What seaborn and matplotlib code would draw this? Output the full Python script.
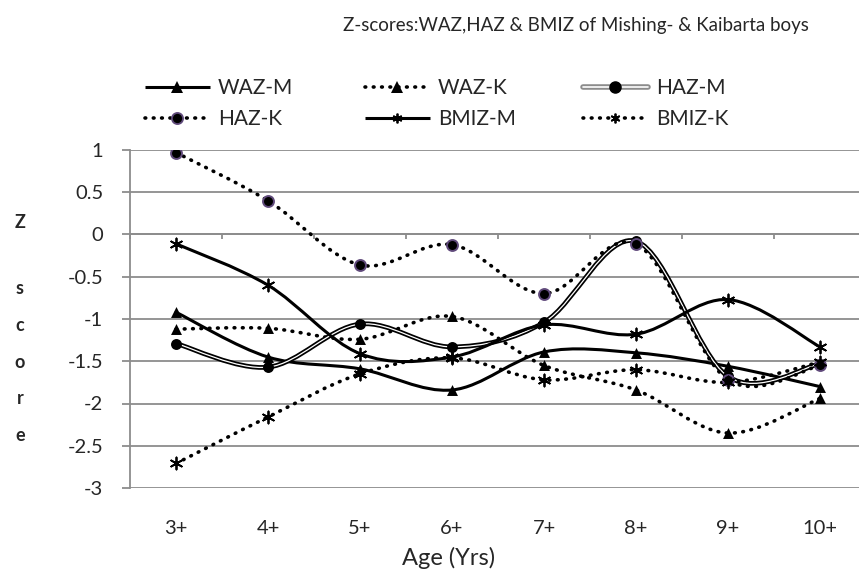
import numpy as np
import matplotlib
matplotlib.use("Agg")
import matplotlib.pyplot as plt
import matplotlib.patheffects as pe
from matplotlib.path import Path
from matplotlib.patches import PathPatch
from matplotlib.lines import Line2D
from matplotlib.legend_handler import HandlerTuple
import seaborn as sns

ages = ["3+", "4+", "5+", "6+", "7+", "8+", "9+", "10+"]
waz_m = [-0.92, -1.45, -1.59, -1.84, -1.39, -1.40, -1.56, -1.80]
waz_k = [-1.12, -1.11, -1.24, -0.97, -1.55, -1.84, -2.35, -1.94]
haz_m = [-1.29, -1.57, -1.06, -1.33, -1.04, -0.08, -1.68, -1.53]
haz_k = [0.97, 0.40, -0.36, -0.12, -0.70, -0.11, -1.72, -1.55]
bmiz_m = [-0.11, -0.60, -1.41, -1.45, -1.07, -1.18, -0.77, -1.33]
bmiz_k = [-2.71, -2.16, -1.65, -1.46, -1.72, -1.60, -1.75, -1.51]

sns.set_style("white")
plt.rcParams['font.family'] = ['Lato', 'DejaVu Sans']

W, H = 859, 573
fig = plt.figure(figsize=(W / 100, H / 100), dpi=100)
ax = fig.add_axes([130 / W, 1 - 488 / H, 736 / W, 338 / H])

purple = "#604a7b"
grid_c = "#8c8c8c"


def smooth_path(ys):
    # Excel-style smoothed line: cubic bezier through every point
    pts = np.column_stack([np.arange(len(ys)), ys]).astype(float)
    ext = np.vstack([pts[0], pts, pts[-1]])
    verts = [pts[0]]
    codes = [Path.MOVETO]
    for i in range(len(pts) - 1):
        p0, p1, p2, p3 = ext[i], ext[i + 1], ext[i + 2], ext[i + 3]
        c1 = p1 + (p2 - p0) / 6
        c2 = p2 - (p3 - p1) / 6
        verts += [c1, c2, p2]
        codes += [Path.CURVE4] * 3
    return Path(verts, codes)


solid = dict(lw=2.2, ls="-")
dotted = dict(lw=2.6, ls=(0, (0.2, 2.1)))
star = (6, 2, 0)

series = [
    ("WAZ-M", waz_m, solid, "^", None),
    ("WAZ-K", waz_k, dotted, "^", None),
    ("HAZ-M", haz_m, "double", "o", None),
    ("HAZ-K", haz_k, dotted, "o", purple),
    ("BMIZ-M", bmiz_m, solid, star, None),
    ("BMIZ-K", bmiz_k, dotted, star, None),
]

for name, ys, style, mk, ec in series:
    path = smooth_path(ys)
    if style == "double":
        patch = PathPatch(path, fill=False, lw=0.9, edgecolor="white", zorder=3,
                          path_effects=[pe.Stroke(linewidth=3.4, foreground="black"), pe.Normal()])
    else:
        patch = PathPatch(path, fill=False, edgecolor="black", linewidth=style["lw"],
                          linestyle=style["ls"], capstyle="round", zorder=3)
    ax.add_patch(patch)
    if mk == star:
        sns.scatterplot(x=np.arange(len(ys)), y=ys, ax=ax, marker=mk, s=75,
                        color="black", linewidth=1.3, zorder=4, legend=False)
    else:
        sns.scatterplot(x=np.arange(len(ys)), y=ys, ax=ax, marker=mk, s=62,
                        color="black", edgecolor=ec if ec else "black",
                        linewidth=1.4 if ec else 0, zorder=4, legend=False)

ax.set_xlim(-0.5, len(ages) - 0.5)
ax.set_ylim(-3, 1)
ax.set_yticks(np.arange(-3, 1.5, 0.5))
ax.set_yticklabels(["-3", "-2.5", "-2", "-1.5", "-1", "-0.5", "0", "0.5", "1"], fontsize=14.5)
ax.yaxis.grid(True, color=grid_c, lw=1.3)
ax.tick_params(axis="y", length=5.8, width=1.3, color=grid_c, pad=13.5, left=True)
for s in ["top", "right"]:
    ax.spines[s].set_visible(False)
ax.spines["left"].set_color(grid_c)
ax.spines["left"].set_linewidth(1.3)

# horizontal axis crosses at zero
ax.spines["bottom"].set_position(("data", 0))
ax.spines["bottom"].set_color(grid_c)
ax.spines["bottom"].set_linewidth(1.3)
ax.set_xticks(np.arange(-0.5, len(ages), 1.0))
ax.set_xticklabels([])
ax.tick_params(axis="x", length=3.6, width=1.3, color=grid_c, direction="out", bottom=True)

sec = ax.secondary_xaxis(0.0)
sec.set_xticks(range(len(ages)))
sec.set_xticklabels(ages, fontsize=14.5)
sec.tick_params(length=0, pad=23)
sec.spines["bottom"].set_visible(False)

fig.text(449 / W, 1 - 558 / H, "Age (Yrs)", ha="center", va="center", fontsize=17)

fig.text(20 / W, 1 - 222 / H, "Z", ha="center", va="center", fontsize=13, fontweight="bold")
fig.text(20 / W, 1 - 362 / H, "s\nc\no\nr\ne", ha="center", va="center",
         fontsize=13, fontweight="bold", linespacing=2.4)

fig.text(576 / W, 1 - 25 / H, "Z-scores:WAZ,HAZ & BMIZ of Mishing- & Kaibarta boys",
         ha="center", va="center", fontsize=13.5)


# legend, one block per column
def handle(style, mk, ec=None):
    if style == "double":
        line = Line2D([], [], color="white", lw=1.2,
                      path_effects=[pe.Stroke(linewidth=4, foreground=grid_c), pe.Normal()])
        m = Line2D([], [], ls="", marker=mk, color="black", ms=8)
        return (line, m)
    return Line2D([], [], color="black", lw=style["lw"], ls=style["ls"], marker=mk,
                  ms=8 if mk != star else 7,
                  markerfacecolor="black", markeredgecolor=ec if ec else "black",
                  markeredgewidth=1.3 if (ec or mk == star) else 0,
                  solid_capstyle="butt", dash_capstyle="round")


handles = {name: handle(style, mk, ec) for name, ys, style, mk, ec in series}
columns = [["WAZ-M", "HAZ-K"], ["WAZ-K", "BMIZ-M"], ["HAZ-M", "BMIZ-K"]]
col_x = [145, 365, 583]
for names, x0 in zip(columns, col_x):
    leg = fig.legend([handles[n] for n in names], names, frameon=False, fontsize=15,
                     loc="upper left", bbox_to_anchor=(x0 / W, 1 - 78 / H),
                     borderpad=0, borderaxespad=0, handlelength=3.1, handletextpad=0.4,
                     labelspacing=0.55, handler_map={tuple: HandlerTuple(ndivide=1)})

fig.savefig("out.png", dpi=100)
